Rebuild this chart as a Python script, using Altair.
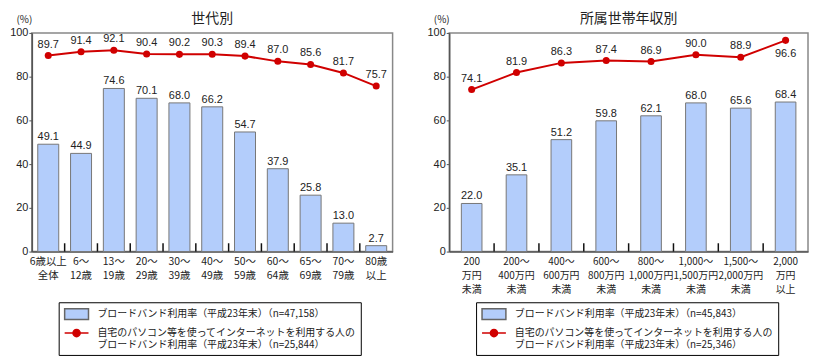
import altair as alt
import pandas as pd

FONT_JP = "Noto Sans CJK JP"
FONT_NUM = "Liberation Sans"
BLUE = "#b3cdfb"
RED = "#d00000"
TXT = "#222222"

# ---- data: by age group ----
age_cats = ["6歳以上\n全体", "6～\n12歳", "13～\n19歳", "20～\n29歳", "30～\n39歳",
            "40～\n49歳", "50～\n59歳", "60～\n64歳", "65～\n69歳", "70～\n79歳", "80歳\n以上"]
age_broadband = [49.1, 44.9, 74.6, 70.1, 68.0, 66.2, 54.7, 37.9, 25.8, 13.0, 2.7]
age_home_pc = [89.7, 91.4, 92.1, 90.4, 90.2, 90.3, 89.4, 87.0, 85.6, 81.7, 75.7]
age_legend = ["ブロードバンド利用率（平成23年末）（n=47,158）",
              "自宅のパソコン等を使ってインターネットを利用する人の\nブロードバンド利用率（平成23年末）（n=25,844）"]

# ---- data: by household income ----
inc_cats = ["200\n万円\n未満", "200～\n400万円\n未満", "400～\n600万円\n未満", "600～\n800万円\n未満",
            "800～\n1,000万円\n未満", "1,000～\n1,500万円\n未満", "1,500～\n2,000万円\n未満", "2,000\n万円\n以上"]
inc_broadband = [22.0, 35.1, 51.2, 59.8, 62.1, 68.0, 65.6, 68.4]
inc_home_pc = [74.1, 81.9, 86.3, 87.4, 86.9, 90.0, 88.9, 96.6]
inc_legend = ["ブロードバンド利用率（平成23年末）（n=45,843）",
              "自宅のパソコン等を使ってインターネットを利用する人の\nブロードバンド利用率（平成23年末）（n=25,346）"]

# legend symbols (drawn 24px wide from a 12px symbol size)
RECT = "M-1,-0.9L3,-0.9L3,0.9L-1,0.9Z"
LINEDOT = "M-1,0L3,0M0.4,0A0.6,0.6,0,1,0,1.6,0A0.6,0.6,0,1,0,0.4,0Z"


def panel(title, cats, bb, home, leg_labels, width, pad_inner, xfont):
    df = pd.DataFrame({"cat": cats, "bb": bb, "home": home})
    step = width / len(cats)
    xscale = alt.Scale(domain=cats, paddingInner=pad_inner, paddingOuter=pad_inner / 2)
    yscale = alt.Scale(domain=[0, 100], nice=False)
    xaxis = alt.Axis(title=None, labelAngle=0, labelExpr="split(datum.value, '\\n')",
                     ticks=False, labelFont=FONT_JP, labelFontSize=xfont, labelLineHeight=14,
                     labelPadding=5, labelBaseline="top", labelColor=TXT,
                     domainColor="#555555", domainWidth=1.5, labelLimit=200)
    yaxis = alt.Axis(title="(%)", titleAngle=0, titleX=-8, titleY=-9, titleAlign="center",
                     titleBaseline="bottom", titleFont=FONT_JP, titleFontSize=10,
                     titleFontWeight="normal", titleColor=TXT,
                     values=[0, 20, 40, 60, 80, 100], grid=False, tickSize=3,
                     tickColor="#555555", labelPadding=1, labelFont=FONT_NUM,
                     labelFontSize=11, labelColor=TXT, domainColor="#555555", domainWidth=1.5)

    def X():
        return alt.X("cat:N", scale=xscale, sort=cats, axis=xaxis)

    base = alt.Chart(df)
    bars = base.mark_bar(fill=BLUE, stroke="#777777", strokeWidth=1).encode(
        x=X(), y=alt.Y("bb:Q", scale=yscale, axis=yaxis))
    bar_text = base.mark_text(dy=-7, font=FONT_NUM, fontSize=11, color=TXT).encode(
        x=X(), y=alt.Y("bb:Q", scale=yscale, axis=yaxis), text=alt.Text("bb:Q", format=".1f"))
    line = base.mark_line(color=RED, strokeWidth=2).encode(
        x=X(), y=alt.Y("home:Q", scale=yscale, axis=yaxis))
    pts = base.mark_point(filled=True, color=RED, size=50, opacity=1).encode(
        x=X(), y=alt.Y("home:Q", scale=yscale, axis=yaxis))
    txt_above = base.transform_filter("datum.home < 95").mark_text(
        dy=-11, font=FONT_NUM, fontSize=11, color=TXT).encode(
        x=X(), y=alt.Y("home:Q", scale=yscale, axis=yaxis), text=alt.Text("home:Q", format=".1f"))
    txt_below = base.transform_filter("datum.home >= 95").mark_text(
        dy=14, font=FONT_NUM, fontSize=11, color=TXT).encode(
        x=X(), y=alt.Y("home:Q", scale=yscale, axis=yaxis), text=alt.Text("home:Q", format=".1f"))

    ticks = alt.Chart(pd.DataFrame({"cat": cats[1:]})).mark_rule(
        color="#111111", strokeWidth=1.5, xOffset=-step / 2).encode(
        x=X(), y=alt.datum(0), y2=alt.datum(3.8))

    legend = alt.Legend(title=None, orient="none", legendX=27, legendY=271,
                        direction="vertical", strokeColor="#000000", fillColor="white",
                        padding=5, symbolSize=144, symbolStrokeWidth=1.5, symbolOpacity=1,
                        labelFont=FONT_JP, labelFontSize=10, labelColor=TXT, labelLimit=400,
                        labelOffset=20, rowPadding=3,
                        labelExpr="split(datum.label, '\\n')")
    helper = alt.Chart(pd.DataFrame({"s": leg_labels})).mark_point(filled=True, opacity=0).encode(
        fill=alt.Fill("s:N", scale=alt.Scale(domain=leg_labels, range=[BLUE, RED]), legend=legend),
        stroke=alt.Stroke("s:N", scale=alt.Scale(domain=leg_labels, range=["#666666", RED]), legend=legend),
        shape=alt.Shape("s:N", scale=alt.Scale(domain=leg_labels, range=[RECT, LINEDOT]), legend=legend),
    )

    return alt.layer(bars, bar_text, ticks, line, pts, txt_above, txt_below, helper).properties(
        width=width, height=220,
        title=alt.TitleParams(title, font=FONT_JP, fontSize=14, fontWeight="normal",
                              color=TXT, anchor="middle", offset=2, dy=14))


left = panel("世代別", age_cats, age_broadband, age_home_pc, age_legend, 363, 0.36, 10.5)
right = panel("所属世帯年収別", inc_cats, inc_broadband, inc_home_pc, inc_legend, 361, 0.54, 10)

chart = alt.hconcat(left, right, spacing=32).resolve_scale(
    fill="independent", stroke="independent", shape="independent"
).resolve_legend(
    fill="independent", stroke="independent", shape="independent"
).configure(
    padding={"left": 0, "top": 2, "right": 0, "bottom": 0}
).configure_view(stroke="#888888", strokeWidth=1.5)

chart.save("out.html", embed_options={"renderer": "svg", "actions": False})
